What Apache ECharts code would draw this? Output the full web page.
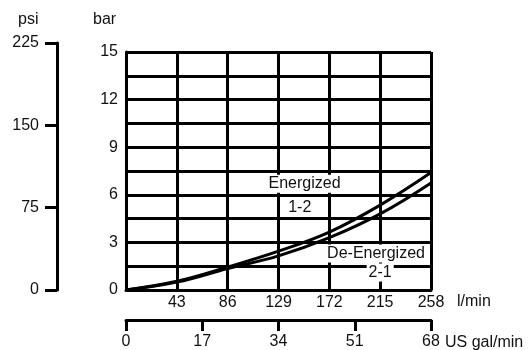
<!DOCTYPE html>
<html>
<head>
    <meta charset="utf-8">
    <title>Pressure drop</title>
    <style>
        html, body { margin: 0; padding: 0; background: #fff; }
        #chartBox { width: 529px; height: 350px; }
    </style>
</head>
<body>
    <div id="chartBox"></div>
    <script src="https://cdn.jsdelivr.net/npm/echarts@6/dist/echarts.min.js"></script>
    <script>
        // flow in l/min and pressure drop in bar
        var flowLpm = [0, 43, 86, 129, 172, 215, 258];
        var energized = [0, 0.55, 1.45, 2.45, 3.65, 5.35, 7.4];     // 1-2
        var deEnergized = [0, 0.5, 1.35, 2.15, 3.3, 4.8, 6.75];    // 2-1
        // secondary scales
        var psiTicks = [0, 75, 150, 225];
        var galTicks = [0, 17, 34, 51, 68];
        var barTicks = [0, 3, 6, 9, 12, 15];
        // curve captions: text, l/min, bar
        var captions = [
            ['Energized', 151, 6.7],
            ['1-2', 147, 5.2],
            ['De-Energized', 211.5, 2.3],
            ['2-1', 215, 1.1]
        ];

        var font = 'Liberation Sans, Arial, sans-serif';
        var black = '#111';
        var txt = { fontFamily: font, fontSize: 16, color: black };

        function pairs(xs, ys) {
            return xs.map(function (x, i) { return [x, ys[i]]; });
        }

        var chart = echarts.init(document.getElementById('chartBox'));

        var option = {
            animation: false,
            grid: [
                { left: 126, top: 52, width: 305, height: 238 },  // main
                { left: 57, top: 43, width: 1, height: 247 },     // psi scale
                { left: 126, top: 300, width: 305, height: 23 }   // gal scale
            ],
            xAxis: [{
                gridIndex: 0, type: 'value',
                min: flowLpm[0], max: flowLpm[flowLpm.length - 1], interval: 43,
                axisLine: { lineStyle: { color: '#000', width: 3 } },
                axisTick: { show: false },
                splitLine: { show: true, lineStyle: { color: '#000', width: 3 } },
                axisLabel: Object.assign({ margin: 5, formatter: function (v) { return v === 0 ? '' : v; } }, txt)
            }, {
                gridIndex: 1, type: 'value', show: false, min: 0, max: 1
            }, {
                gridIndex: 2, type: 'value',
                min: galTicks[0], max: galTicks[galTicks.length - 1], interval: 17,
                axisLine: { lineStyle: { color: '#000', width: 3 } },
                axisTick: { show: true, length: 11, lineStyle: { color: '#000', width: 3 } },
                splitLine: { show: false },
                axisLabel: Object.assign({ margin: 14 }, txt)
            }],
            yAxis: [{
                gridIndex: 0, type: 'value',
                min: barTicks[0], max: barTicks[barTicks.length - 1], interval: 1.5,
                axisLine: { show: true, lineStyle: { color: '#000', width: 3 } },
                axisTick: { show: false },
                splitLine: { show: true, lineStyle: { color: '#000', width: 3 } },
                axisLabel: Object.assign({
                    margin: 8,
                    formatter: function (v) {
                        return Math.abs(v / 3 - Math.round(v / 3)) < 1e-6 ? Math.round(v) : '';
                    }
                }, txt)
            }, {
                gridIndex: 1, type: 'value',
                min: psiTicks[0], max: psiTicks[psiTicks.length - 1], interval: 75,
                axisLine: { show: true, lineStyle: { color: '#000', width: 3 } },
                axisTick: { show: true, length: 12, lineStyle: { color: '#000', width: 3 } },
                splitLine: { show: false },
                axisLabel: Object.assign({ margin: 18 }, txt)
            }, {
                gridIndex: 2, type: 'value', show: false, min: 0, max: 1
            }],
            graphic: [
                { type: 'text', left: 18, top: 12, style: { text: 'psi', font: '16px ' + font, fill: black } },
                { type: 'text', left: 93, top: 12, style: { text: 'bar', font: '16px ' + font, fill: black } },
                { type: 'text', left: 457, top: 294, style: { text: 'l/min', font: '16px ' + font, fill: black } },
                { type: 'text', left: 445, top: 335, style: { text: 'US gal/min', font: '16px ' + font, fill: black } }
            ],
            series: [{
                name: 'Energized 1-2', type: 'line',
                xAxisIndex: 0, yAxisIndex: 0,
                smooth: 0.4, symbol: 'none', z: 3,
                lineStyle: { color: '#000', width: 3 },
                data: pairs(flowLpm, energized)
            }, {
                name: 'De-Energized 2-1', type: 'line',
                xAxisIndex: 0, yAxisIndex: 0,
                smooth: 0.4, symbol: 'none', z: 3,
                lineStyle: { color: '#000', width: 3 },
                data: pairs(flowLpm, deEnergized)
            }, {
                name: 'captions', type: 'scatter',
                xAxisIndex: 0, yAxisIndex: 0,
                symbolSize: 0, z: 4,
                itemStyle: { opacity: 1 },
                label: {
                    show: true, position: 'inside',
                    formatter: function (p) { return p.data[2]; },
                    fontFamily: font, fontSize: 16, color: black,
                    backgroundColor: '#fff', padding: [1, 2]
                },
                data: captions.map(function (c) { return [c[1], c[2], c[0]]; })
            }]
        };

        chart.setOption(option);
    </script>
</body>
</html>
